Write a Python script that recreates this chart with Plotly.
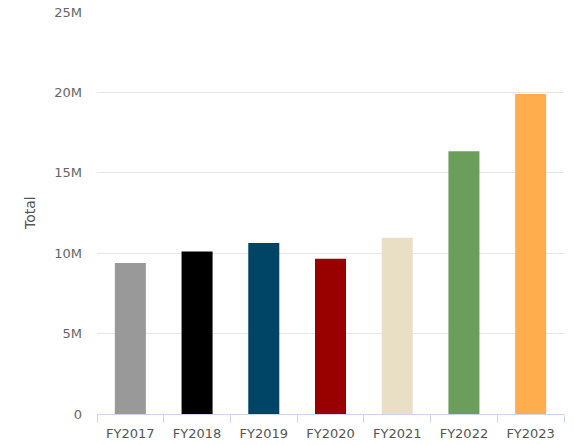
import plotly.graph_objects as go

categories = ["FY2017", "FY2018", "FY2019", "FY2020", "FY2021", "FY2022", "FY2023"]
totals = [9.39e6, 10.11e6, 10.64e6, 9.66e6, 10.96e6, 16.34e6, 19.9e6]
bar_colors = ["#999999", "#000000", "#004466", "#990000", "#E8DFC4", "#6A9E5A", "#FFAD4D"]
y_tick_vals = [0, 5e6, 10e6, 15e6, 20e6, 25e6]
y_tick_text = ["0", "5M", "10M", "15M", "20M", "25M"]

fig = go.Figure(go.Bar(
    x=categories, y=totals, marker=dict(color=bar_colors, line=dict(width=0)),
    width=0.465, showlegend=False,
))

W, H = 574, 445
ml, mr, mt, mb = 97, 10, 12, 31
fig.update_layout(
    width=W, height=H,
    margin=dict(l=ml, r=mr, t=mt, b=mb, autoexpand=False),
    paper_bgcolor="white", plot_bgcolor="white",
    font=dict(family="DejaVu Sans, sans-serif", color="#666666", size=13),
    xaxis=dict(
        showline=True, linecolor="#ccd6eb", linewidth=1,
        ticks="outside", tickson="boundaries", ticklen=8, tickcolor="#ccd6eb",
        tickfont=dict(size=13, color="#555555"), showgrid=False,
        ticklabelstandoff=7,
    ),
    yaxis=dict(
        range=[0, 25e6], tickvals=y_tick_vals, ticktext=y_tick_text,
        showgrid=True, gridcolor="#e6e6e6", gridwidth=1, zeroline=False,
        showline=False, tickfont=dict(size=13, color="#666666"),
        ticklabelstandoff=14,
    ),
    annotations=[dict(
        text="Total", textangle=-90, xref="paper", yref="paper",
        x=(30 - ml) / (W - ml - mr), y=0.5, showarrow=False,
        font=dict(size=14, color="#555555"), xanchor="center", yanchor="middle",
    )],
)

fig.write_html("out.html")
